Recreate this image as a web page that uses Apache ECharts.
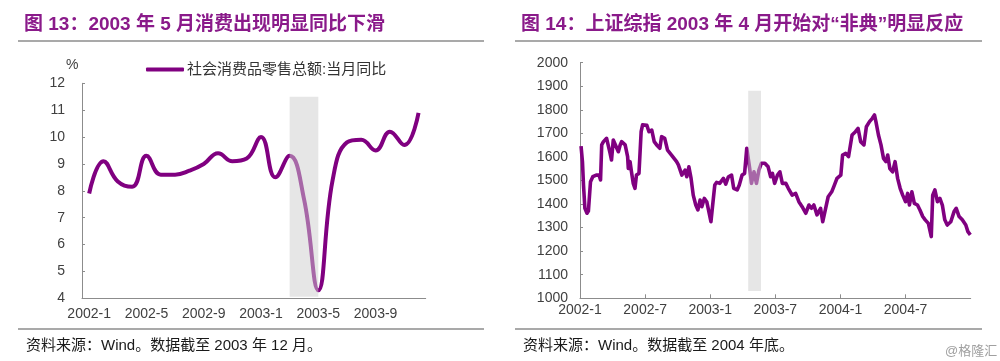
<!DOCTYPE html>
<html><head><meta charset="utf-8">
<script src="https://cdn.jsdelivr.net/npm/echarts@6/dist/echarts.min.js"></script>
<style>html,body{margin:0;padding:0;background:#fff}#c{width:1000px;height:361px}</style>
</head><body><div id="c"></div>
<script>
// ---- Left chart: 社会消费品零售总额 当月同比 (%) ----
const months = ['2002-1','2002-2','2002-3','2002-4','2002-5','2002-6','2002-7','2002-8','2002-9','2002-10','2002-11','2002-12',
                '2003-1','2003-2','2003-3','2003-4','2003-5','2003-6','2003-7','2003-8','2003-9','2003-10','2003-11','2003-12'];
const retailYoY = [7.9, 9.1, 8.35, 8.15, 9.3, 8.6, 8.6, 8.75, 9.0, 9.4, 9.1, 9.2,
                   10.0, 8.5, 9.3, 7.7, 4.3, 8.4, 9.8, 9.9, 9.5, 10.2, 9.7, 10.9];
const leftShade = {from: '2003-3', to: '2003-5', top: 11.5, bottom: 4.06};

// ---- Right chart: 上证综指 ----
const shDates = ['2002-01-04','2002-01-08','2002-01-11','2002-01-15','2002-01-21','2002-01-25','2002-01-31','2002-02-06','2002-02-15','2002-02-22',
'2002-02-26','2002-03-01','2002-03-06','2002-03-15','2002-03-25','2002-03-29','2002-04-03','2002-04-08','2002-04-17','2002-04-22',
'2002-04-26','2002-05-06','2002-05-13','2002-05-15','2002-05-20','2002-05-24','2002-05-29','2002-06-03','2002-06-07','2002-06-14',
'2002-06-20','2002-06-24','2002-07-06','2002-07-12','2002-07-20','2002-07-27','2002-08-03','2002-08-12','2002-08-17','2002-08-26',
'2002-09-03','2002-09-14','2002-09-28','2002-10-03','2002-10-13','2002-10-22','2002-10-27','2002-11-02','2002-11-08','2002-11-14',
'2002-11-21','2002-11-27','2002-12-03','2002-12-08','2002-12-15','2002-12-22','2002-12-27','2003-01-03','2003-01-07','2003-01-14',
'2003-01-19','2003-01-28','2003-02-07','2003-02-13','2003-02-20','2003-02-28','2003-03-06','2003-03-16','2003-03-22','2003-03-30',
'2003-04-06','2003-04-12','2003-04-20','2003-04-25','2003-05-02','2003-05-09','2003-05-16','2003-05-23','2003-06-02','2003-06-11',
'2003-06-18','2003-06-23','2003-06-29','2003-07-07','2003-07-14','2003-07-21','2003-07-31','2003-08-07','2003-08-18','2003-08-28',
'2003-09-06','2003-09-15','2003-09-25','2003-10-04','2003-10-11','2003-10-18','2003-10-27','2003-11-06','2003-11-12','2003-11-20',
'2003-11-27','2003-12-07','2003-12-13','2003-12-22','2004-01-02','2004-01-07','2004-01-16','2004-01-24','2004-02-03','2004-02-12',
'2004-02-19','2004-02-26','2004-03-06','2004-03-13','2004-03-22','2004-03-26','2004-03-30','2004-04-05','2004-04-09','2004-04-16',
'2004-04-23','2004-04-30','2004-05-07','2004-05-12','2004-05-18','2004-05-26','2004-06-02','2004-06-09','2004-06-16','2004-06-23',
'2004-07-01','2004-07-07','2004-07-12','2004-07-19','2004-07-26','2004-08-04','2004-08-11','2004-08-19','2004-08-26','2004-09-04',
'2004-09-12','2004-09-16','2004-09-22','2004-09-29','2004-10-06','2004-10-13','2004-10-20','2004-10-27','2004-11-06','2004-11-15',
'2004-11-21','2004-11-29','2004-12-08','2004-12-18','2004-12-24','2004-12-31'];
const shValues = [1646,1580,1481,1382,1361,1370,1495,1516,1523,1523,
1502,1651,1665,1679,1615,1587,1672,1672,1622,1651,
1665,1651,1601,1551,1580,1537,1488,1467,1523,1530,
1707,1736,1734,1707,1714,1665,1651,1637,1686,1679,
1629,1608,1580,1566,1523,1544,1516,1558,1509,1438,
1396,1375,1417,1389,1424,1410,1375,1325,1382,1481,
1492,1488,1509,1485,1516,1523,1467,1460,1481,1523,
1530,1637,1552,1488,1537,1488,1544,1573,1573,1558,
1516,1530,1488,1523,1537,1488,1488,1467,1438,1445,
1410,1389,1361,1396,1382,1396,1354,1382,1325,1382,
1431,1452,1474,1509,1523,1608,1615,1601,1693,1707,
1721,1665,1651,1728,1750,1743,1764,1778,1750,1693,
1651,1594,1580,1608,1551,1537,1580,1509,1467,1438,
1410,1445,1396,1452,1403,1396,1375,1347,1333,1318,
1262,1438,1460,1410,1424,1396,1333,1311,1325,1368,
1382,1347,1333,1311,1283,1269];
const rightTickLabels = ['2002-1','2002-7','2003-1','2003-7','2004-1','2004-7','2005-1'];
const rightShade = {from: '2003-04-16', to: '2003-05-22', top: 1881, bottom: 1031};

// month index since 2002-01 (fractional by day)
function monthIndex(s) {
  const p = s.split('-').map(Number);
  const dim = new Date(p[0], p[1], 0).getDate();
  return (p[0] - 2002) * 12 + (p[1] - 1) + (p[2] - 1) / dim;
}

const PURPLE = '#800080';
const LATIN = 'Liberation Sans, Arial, Noto Sans CJK SC, sans-serif';
const CJK = 'Liberation Sans, Noto Sans CJK SC, sans-serif';
const axisCol = '#8c8c8c';
const labelCol = '#404040';
const shadeCol = 'rgba(205,205,205,0.5)';

const chart = echarts.init(document.getElementById('c'), null, {renderer: 'canvas'});
chart.setOption({
  animation: false,
  title: [
    {text: '图 13：2003 年 5 月消费出现明显同比下滑', left: 19, top: 10,
     textStyle: {fontFamily: CJK, fontSize: 19, fontWeight: 'bold', color: '#8a1a8a'}},
    {text: '图 14：上证综指 2003 年 4 月开始对“非典”明显反应', left: 516, top: 10,
     textStyle: {fontFamily: CJK, fontSize: 19, fontWeight: 'bold', color: '#8a1a8a'}},
    {text: '资料来源：Wind。数据截至 2003 年 12 月。', left: 21, top: 333,
     textStyle: {fontFamily: CJK, fontSize: 15, fontWeight: 'normal', color: '#1a1a1a'}},
    {text: '资料来源：Wind。数据截至 2004 年底。', left: 518, top: 333,
     textStyle: {fontFamily: CJK, fontSize: 15, fontWeight: 'normal', color: '#1a1a1a'}},
    {text: '@格隆汇', left: 940, top: 340,
     textStyle: {fontFamily: CJK, fontSize: 13, fontWeight: 'normal', color: '#a0a0a0'}}
  ],
  graphic: [
    {type: 'line', shape: {x1: 18, y1: 41, x2: 484, y2: 41}, style: {stroke: '#8c8c8c', lineWidth: 1.5}},
    {type: 'line', shape: {x1: 515, y1: 41, x2: 982, y2: 41}, style: {stroke: '#8c8c8c', lineWidth: 1.5}},
    {type: 'line', shape: {x1: 18, y1: 329, x2: 484, y2: 329}, style: {stroke: '#8c8c8c', lineWidth: 1.5}},
    {type: 'line', shape: {x1: 515, y1: 329, x2: 982, y2: 329}, style: {stroke: '#8c8c8c', lineWidth: 1.5}},
    {type: 'text', left: 66, top: 58, style: {text: '%', font: '14px Liberation Sans', fill: labelCol}}
  ],
  legend: {
    data: ['社会消费品零售总额:当月同比'], left: 141, top: 57,
    icon: 'roundRect', itemWidth: 38, itemHeight: 4, itemGap: 10,
    textStyle: {fontFamily: CJK, fontSize: 15, color: '#333', padding: [0, 0, 0, -2]}
  },
  grid: [
    {left: 82, top: 83.3, width: 343.7, height: 215},
    {left: 580, top: 62.7, width: 390.7, height: 235.6}
  ],
  xAxis: [
    {type: 'category', gridIndex: 0, data: months, boundaryGap: true,
     axisLine: {lineStyle: {color: axisCol, width: 1}},
     axisTick: {inside: true, interval: 3, length: 4, lineStyle: {color: axisCol}},
     axisLabel: {interval: 3, margin: 9, fontFamily: LATIN, fontSize: 14, color: labelCol},
     splitLine: {show: false}},
    {type: 'value', gridIndex: 1, min: 0, max: 36, interval: 6,
     axisLine: {show: true, lineStyle: {color: axisCol, width: 1}},
     axisTick: {show: true, inside: true, length: 4, lineStyle: {color: axisCol}},
     axisLabel: {margin: 5, fontFamily: LATIN, fontSize: 14, color: labelCol, showMaxLabel: false,
                 formatter: v => rightTickLabels[Math.round(v / 6)]},
     splitLine: {show: false}}
  ],
  yAxis: [
    {type: 'value', gridIndex: 0, min: 4, max: 12, interval: 1,
     axisLine: {show: true, lineStyle: {color: axisCol, width: 1}},
     axisTick: {show: true, inside: true, length: 3, lineStyle: {color: axisCol}},
     axisLabel: {margin: 17, fontFamily: LATIN, fontSize: 14, color: labelCol},
     splitLine: {show: false}},
    {type: 'value', gridIndex: 1, min: 1000, max: 2000, interval: 100,
     axisLine: {show: true, lineStyle: {color: axisCol, width: 1}},
     axisTick: {show: true, inside: true, length: 3, lineStyle: {color: axisCol}},
     axisLabel: {margin: 12, fontFamily: LATIN, fontSize: 14, color: labelCol, formatter: v => String(v)},
     splitLine: {show: false}}
  ],
  series: [
    {name: '社会消费品零售总额:当月同比', type: 'line', xAxisIndex: 0, yAxisIndex: 0,
     data: retailYoY, smooth: 0.45, showSymbol: false, z: 2,
     itemStyle: {color: PURPLE}, lineStyle: {color: PURPLE, width: 4}},
    {name: 'shadeL', type: 'line', xAxisIndex: 0, yAxisIndex: 0, data: [], z: 5,
     markArea: {silent: true, z: 5, itemStyle: {color: shadeCol},
       data: [[{coord: [leftShade.from, leftShade.top]}, {coord: [leftShade.to, leftShade.bottom]}]]}},
    {name: '上证综指', type: 'line', xAxisIndex: 1, yAxisIndex: 1,
     data: shDates.map((d, i) => [monthIndex(d), shValues[i]]), showSymbol: false, z: 2,
     itemStyle: {color: PURPLE}, lineStyle: {color: PURPLE, width: 3.6, join: 'round'}},
    {name: 'shadeR', type: 'line', xAxisIndex: 1, yAxisIndex: 1, data: [], z: 5,
     markArea: {silent: true, z: 5, itemStyle: {color: shadeCol},
       data: [[{coord: [monthIndex(rightShade.from), rightShade.top]}, {coord: [monthIndex(rightShade.to), rightShade.bottom]}]]}}
  ]
});
</script></body></html>
